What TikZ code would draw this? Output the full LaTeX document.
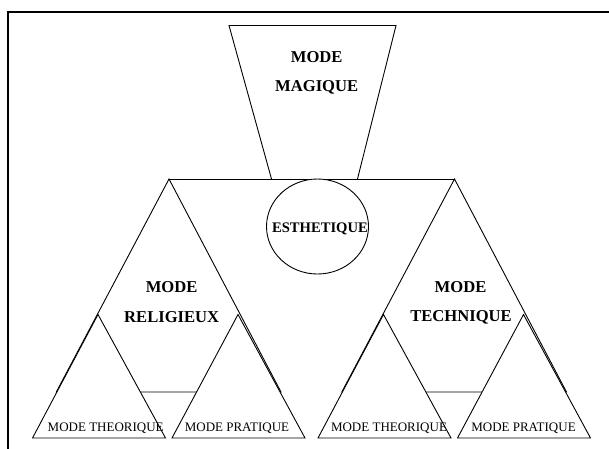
\documentclass[tikz,border=0pt]{standalone}
\usepackage{fontspec}
\setmainfont{Liberation Serif}
\begin{document}
\begin{tikzpicture}[x=1pt,y=-1pt,
  outl/.style={draw=black,line width=0.9pt,fill=white,line join=miter},
  biglabel/.style={font=\fontsize{16.6}{18}\selectfont\bfseries,inner sep=0pt,anchor=base},
  midlabel/.style={font=\fontsize{14.6}{16}\selectfont\bfseries,inner sep=0pt,anchor=base},
  smalllabel/.style={font=\fontsize{13}{15}\selectfont,inner sep=0pt,anchor=base}]
\clip (0,0) rectangle (609,448);
\fill[white] (0,0) rectangle (609,448);
% frame
\draw[line width=1.8pt] (620,12.2) -- (8.3,12.2) -- (8.3,460);
% trapezoid (magique)
\draw[outl] (271.5,179) -- (229,25.5) -- (396,25.5) -- (357.5,179);
% connecting line
\coordinate (LA) at (169,179);
\coordinate (RA) at (454.5,179);
\draw[line width=0.9pt] (LA) -- (RA);
% circle
\draw[outl] (317.5,226.5) ellipse [x radius=51, y radius=47.5];
% groups
\foreach \dx in {0,285.5}{
  \begin{scope}[xshift=\dx]
  \draw[outl] (169,179) -- (56.3,392) -- (281,392) -- cycle;
  \draw[outl] (98,314.5) -- (32.5,438) -- (165.5,438) -- cycle;
  \draw[outl] (238,314.5) -- (172,438) -- (305,438) -- cycle;
  \end{scope}
}
% labels
\node[biglabel] (m1) at (316.7,62.3) {MODE};
\node[biglabel] (m2) at (316.7,91.6) {MAGIQUE};
\node[midlabel] (es) at (320,232) {ESTHETIQUE};
\node[biglabel] (r1) at (171.6,292.8) {MODE};
\node[biglabel] (r2) at (171.7,322.5) {RELIGIEUX};
\node[biglabel] (t1) at (460.5,292.6) {MODE};
\node[biglabel] (t2) at (461,321.8) {TECHNIQUE};
\node[smalllabel] (lt) at (105.7,431.3) {MODE THEORIQUE};
\node[smalllabel] (lp) at (237,431.3) {MODE PRATIQUE};
\node[smalllabel] (rt) at (389,431.3) {MODE THEORIQUE};
\node[smalllabel] (rp) at (523.5,431.3) {MODE PRATIQUE};
\end{tikzpicture}
\end{document}
